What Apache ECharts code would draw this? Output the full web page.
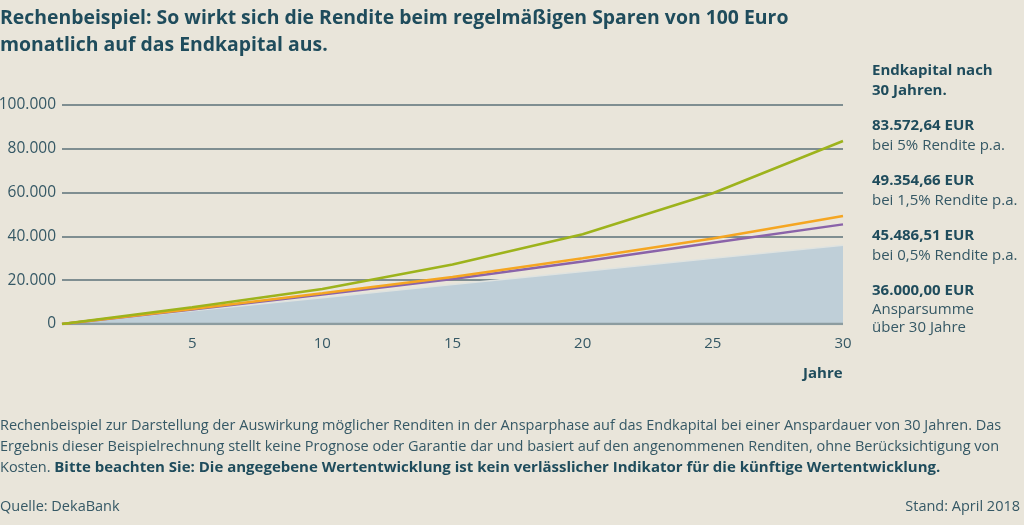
<!DOCTYPE html>
<html><head><meta charset="utf-8">
<script src="https://cdn.jsdelivr.net/npm/echarts@6/dist/echarts.min.js"></script>
<style>html,body{margin:0;padding:0;background:#e9e5da;}#c{width:1024px;height:525px;}</style>
</head><body><div id="c"></div>
<script>
const years = [0, 5, 10, 15, 20, 25, 30];
const rendite5 = [0, 7600, 16000, 27200, 41000, 59700, 83572.64];
const rendite15 = [0, 6800, 14000, 21500, 30000, 39000, 49354.66];
const rendite05 = [0, 6600, 13500, 20500, 28500, 37100, 45486.51];
const ansparsumme = [0, 6000, 12000, 18000, 24000, 30000, 36000];
const xTicks = [5, 10, 15, 20, 25, 30];
const yTicks = [0, 20000, 40000, 60000, 80000, 100000];

const font = '"Open Sans", "Noto Sans", sans-serif';
const dark = '#1f4c5c';
const txt = '#355865';
const fmt = v => String(v).replace(/\B(?=(\d{3})+(?!\d))/g, '.');
const pair = arr => years.map((y, i) => [y, arr[i]]);

const chart = echarts.init(document.getElementById('c'));
const rightX = 872;
const rightTexts = [
  ['Endkapital nach', 72, true], ['30 Jahren.', 92, true],
  ['83.572,64 EUR', 127, true], ['bei 5% Rendite p.a.', 147, false],
  ['49.354,66 EUR', 182, true], ['bei 1,5% Rendite p.a.', 202, false],
  ['45.486,51 EUR', 237, true], ['bei 0,5% Rendite p.a.', 257, false],
  ['36.000,00 EUR', 292, true], ['Ansparsumme', 311, false], ['über 30 Jahre', 329, false]
];
const graphics = [
  {type:'text', left:0, top:5, style:{text:'Rechenbeispiel: So wirkt sich die Rendite beim regelmäßigen Sparen von 100 Euro\nmonatlich auf das Endkapital aus.', font:'bold 19.4px '+font, fill:dark, lineHeight:27}},
  {type:'text', left:803, top:366, style:{text:'Jahre', font:'bold 15px '+font, fill:dark}},
  {type:'text', left:0, top:415, style:{rich:{n:{font:'14.5px '+font, fill:txt, lineHeight:21}, b:{font:'bold 15px '+font, fill:dark, lineHeight:21}}, text:'{n|Rechenbeispiel zur Darstellung der Auswirkung möglicher Renditen in der Ansparphase auf das Endkapital bei einer Anspardauer von 30 Jahren. Das}\n{n|Ergebnis dieser Beispielrechnung stellt keine Prognose oder Garantie dar und basiert auf den angenommenen Renditen, ohne Berücksichtigung von}\n{n|Kosten. }{b|Bitte beachten Sie: Die angegebene Wertentwicklung ist kein verlässlicher Indikator für die künftige Wertentwicklung.}', lineHeight:21}},
  {type:'text', left:0, top:499, style:{text:'Quelle: DekaBank', font:'14.5px '+font, fill:txt}},
  {type:'text', right:4, top:499, style:{text:'Stand: April 2018', font:'14.5px '+font, fill:txt}}
];
rightTexts.forEach(([t, y, b]) => graphics.push({type:'text', left:rightX, top:y - 9, style:{text:t, font:(b?'bold ':'')+'15px '+font, fill:b?dark:txt}}));

chart.setOption({
  backgroundColor:'#e9e5da',
  animation:false,
  grid:{left:62, right:181, top:105, bottom:201, outerBoundsMode:'none', containLabel:false},
  xAxis:{type:'value', min:0, max:30, interval:5,
    axisLine:{show:false}, axisTick:{show:false}, splitLine:{show:false},
    axisLabel:{showMinLabel:false, color:txt, fontSize:15, fontFamily:font, margin:12}},
  yAxis:{type:'value', min:0, max:100000, interval:20000,
    axisLine:{show:false}, axisTick:{show:false},
    splitLine:{lineStyle:{color:'#5b7079', width:1.5}},
    axisLabel:{formatter:v => fmt(v), color:txt, fontSize:15.5, fontFamily:font, margin:6}},
  graphic:graphics,
  series:[
    {type:'line', data:pair(ansparsumme), symbol:'none', z:1,
      lineStyle:{color:'#dfe3e0', width:1.5}, areaStyle:{color:'#bfcfd8', opacity:1}},
    {type:'line', data:[[0,0],[30,0]], symbol:'none', z:2, silent:true,
      lineStyle:{color:'#8c9ca0', width:2.5}},
    {type:'line', data:pair(rendite05), symbol:'none', z:3, lineStyle:{color:'#8a63a9', width:2.5}},
    {type:'line', data:pair(rendite15), symbol:'none', z:4, lineStyle:{color:'#f5a622', width:2.5}},
    {type:'line', data:pair(rendite5), symbol:'none', z:5, lineStyle:{color:'#9db31c', width:2.5}}
  ]
});
</script></body></html>
